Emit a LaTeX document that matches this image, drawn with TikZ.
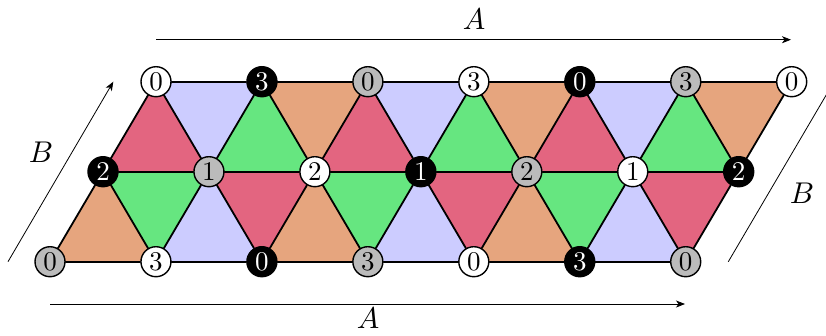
\documentclass[tikz,border=0pt]{standalone}
\usepackage{graphicx}
\usetikzlibrary{arrows.meta}
\definecolor{cLav}{HTML}{CCCCFF}
\definecolor{cOr}{HTML}{E6A57E}
\definecolor{cRed}{HTML}{E36580}
\definecolor{cGr}{HTML}{66E680}
\definecolor{cGray}{HTML}{BBBBBB}
\newcommand{\vnum}[1]{\scalebox{2.7}{#1}}
\newcommand{\lnum}[1]{\scalebox{3.0}{$#1$}}
\begin{document}
\begin{tikzpicture}[x=1pt,y=-1pt,
  vtx/.style={circle,draw=black,line width=1.4pt,minimum size=30pt,inner sep=0pt},
  vw/.style={vtx,fill=white},
  vk/.style={vtx,fill=black,text=white},
  vg/.style={vtx,fill=cGray},
  edge/.style={line width=1.8pt,line cap=round},
  arr/.style={line width=0.8pt,-{Stealth[length=9pt,width=7pt,inset=2.5pt]}},
  lbl/.style={inner sep=0pt}]
\useasboundingbox (0,0) rectangle (826,335);
% lattice points
\foreach \j in {0,...,6}{
  \coordinate (B\j) at ({50+105.95*\j},261.7);
  \coordinate (M\j) at ({103+105.95*\j},171.7);
  \coordinate (T\j) at ({156+105.95*\j},81.7);
}
% lower strip
\foreach \j/\cu/\cd in {0/cOr/cGr,1/cLav/cRed,2/cOr/cGr,3/cLav/cRed,4/cOr/cGr,5/cLav/cRed}{
  \pgfmathtruncatemacro{\k}{\j+1}
  \fill[\cu] (B\j) -- (B\k) -- (M\j) -- cycle;
  \fill[\cd] (M\j) -- (M\k) -- (B\k) -- cycle;
}
% upper strip
\foreach \j/\cu/\cd in {0/cRed/cLav,1/cGr/cOr,2/cRed/cLav,3/cGr/cOr,4/cRed/cLav,5/cGr/cOr}{
  \pgfmathtruncatemacro{\k}{\j+1}
  \fill[\cu] (M\j) -- (M\k) -- (T\j) -- cycle;
  \fill[\cd] (T\j) -- (T\k) -- (M\k) -- cycle;
}
% vertices
\node[vw] (t0) at (T0) {\vnum{0}};
\node[vk] (t1) at (T1) {\vnum{3}};
\node[vg] (t2) at (T2) {\vnum{0}};
\node[vw] (t3) at (T3) {\vnum{3}};
\node[vk] (t4) at (T4) {\vnum{0}};
\node[vg] (t5) at (T5) {\vnum{3}};
\node[vw] (t6) at (T6) {\vnum{0}};
\node[vk] (m0) at (M0) {\vnum{2}};
\node[vg] (m1) at (M1) {\vnum{1}};
\node[vw] (m2) at (M2) {\vnum{2}};
\node[vk] (m3) at (M3) {\vnum{1}};
\node[vg] (m4) at (M4) {\vnum{2}};
\node[vw] (m5) at (M5) {\vnum{1}};
\node[vk] (m6) at (M6) {\vnum{2}};
\node[vg] (b0) at (B0) {\vnum{0}};
\node[vw] (b1) at (B1) {\vnum{3}};
\node[vk] (b2) at (B2) {\vnum{0}};
\node[vg] (b3) at (B3) {\vnum{3}};
\node[vw] (b4) at (B4) {\vnum{0}};
\node[vk] (b5) at (B5) {\vnum{3}};
\node[vg] (b6) at (B6) {\vnum{0}};
% edges
\foreach \j in {0,...,5}{
  \pgfmathtruncatemacro{\k}{\j+1}
  \draw[edge] (b\j) -- (b\k);
  \draw[edge] (m\j) -- (m\k);
  \draw[edge] (t\j) -- (t\k);
}
\foreach \j in {0,...,6}{
  \draw[edge] (b\j) -- (m\j);
  \draw[edge] (m\j) -- (t\j);
}
\draw[edge] (m0) -- (b1);
\foreach \j in {0,...,4}{
  \pgfmathtruncatemacro{\k}{\j+1}
  \pgfmathtruncatemacro{\l}{\j+2}
  \draw[edge] (t\j) -- (m\k);
  \draw[edge] (m\k) -- (b\l);
}
\draw[edge] (t5) -- (m6);
% period arrows
\coordinate (aT1) at (156,39.7);
\coordinate (aT2) at (791,39.7);
\coordinate (aB1) at (50,304);
\coordinate (aB2) at (685,304);
\coordinate (bL1) at (8,261.7);
\coordinate (bL2) at (113.3,81.7);
\coordinate (bR1) at (728.3,261.7);
\coordinate (bR2) at (834,81.7);
\draw[arr] (aT1) -- (aT2);
\draw[arr] (aB1) -- (aB2);
\draw[arr] (bL1) -- (bL2);
\draw[arr] (bR1) -- (bR2);
\node[lbl] (lA1) at (474,19) {\lnum{A}};
\node[lbl] (lA2) at (368,318) {\lnum{A}};
\node[lbl] (lB1) at (41,152) {\lnum{B}};
\node[lbl] (lB2) at (802,193) {\lnum{B}};
\end{tikzpicture}
\end{document}
